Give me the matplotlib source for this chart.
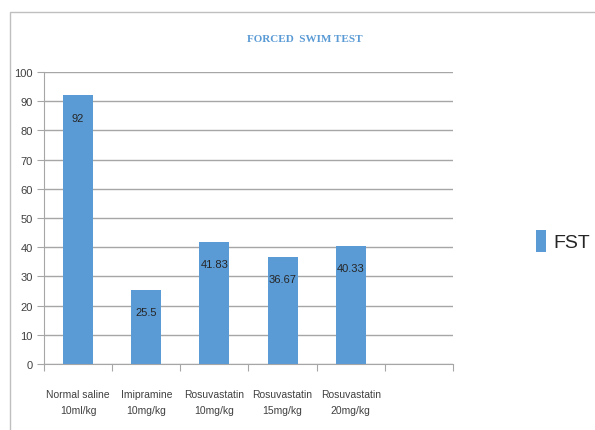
import matplotlib
matplotlib.use("Agg")
import matplotlib.pyplot as plt
from matplotlib.patches import Rectangle
import numpy as np

categories = ["Normal saline\n10ml/kg", "Imipramine\n10mg/kg", "Rosuvastatin\n10mg/kg",
              "Rosuvastatin\n15mg/kg", "Rosuvastatin\n20mg/kg", ""]
fst_values = [92, 25.5, 41.83, 36.67, 40.33]
value_labels = ["92", "25.5", "41.83", "36.67", "40.33"]
yticks = list(range(0, 101, 10))

narrow = ['Liberation Sans', 'DejaVu Sans']
bar_color = '#5B9BD5'

fig = plt.figure(figsize=(5.95, 4.31), dpi=100)
ax = fig.add_axes([44/595, 1-365/431, (453-44)/595, (365-73)/431])

x = np.arange(len(fst_values))
bars = ax.bar(x, fst_values, width=0.44, color=bar_color, zorder=3, label='FST')
ax.set_xlim(-0.5, len(categories) - 0.5)
ax.set_ylim(0, 100)
ax.set_yticks(yticks)
ax.set_yticklabels([str(t) for t in yticks], family=narrow, fontsize=8, color='#404040')

ax.set_xticks(np.arange(len(categories) + 1) - 0.5)
ax.set_xticklabels([])
ax.tick_params(axis='x', length=5, color='#A6A6A6', direction='out')
ax.tick_params(axis='y', length=5, color='#A6A6A6', direction='out', pad=3)
for i, c in enumerate(categories):
    ax.text(i, -0.085, c, transform=ax.get_xaxis_transform(), ha='center', va='top',
            family=narrow, fontsize=7.5, color='#404040', linespacing=1.8)

ax.grid(axis='y', color='#A6A6A6', linewidth=1, zorder=0)
for s in ['top', 'right']:
    ax.spines[s].set_visible(False)
ax.spines['left'].set_color('#A6A6A6')
ax.spines['bottom'].set_color('#A6A6A6')

for b, lab in zip(bars, value_labels):
    ax.annotate(lab, (b.get_x() + b.get_width()/2, b.get_height()), xytext=(0, -16),
                textcoords='offset points', ha='center', va='center',
                family=narrow, fontsize=8, color='#262626', zorder=4)

fig.text(305/595, 1-40/431, "FORCED  SWIM TEST", ha='center', va='center',
         family=['Liberation Serif', 'DejaVu Serif'], fontsize=8, fontweight='bold', color='#5B9BD5')

leg = fig.legend(handles=[bars], labels=['FST'], loc='center left', bbox_to_anchor=(536/595, 1-242/431),
                 frameon=False, handlelength=0.5, handleheight=1.4, handletextpad=0.4, borderpad=0,
                 borderaxespad=0, prop={'family': narrow, 'size': 14})
for t in leg.get_texts():
    t.set_color('#262626')

fig.add_artist(Rectangle((10/595, -0.1), 1.2, 1 - 13/431 + 0.1, transform=fig.transFigure,
                         fill=False, edgecolor='#BFBFBF', linewidth=1))

fig.savefig('out.png', dpi=100)
